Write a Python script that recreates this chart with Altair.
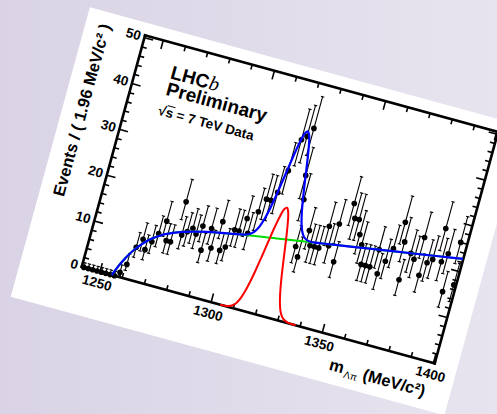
import math
import altair as alt
import pandas as pd

# ---------------- data ----------------
bin_centers = [1242.78, 1244.74, 1246.70, 1248.66, 1250.62, 1252.58, 1254.54, 1256.50, 1258.46, 1260.42,
               1262.38, 1264.34, 1266.30, 1268.26, 1270.22, 1272.18, 1274.14, 1276.10, 1278.06, 1280.02,
               1281.98, 1283.94, 1285.90, 1287.86, 1289.82, 1291.78, 1293.74, 1295.70, 1297.66, 1299.62,
               1301.58, 1303.54, 1305.50, 1307.46, 1309.42, 1311.38, 1313.34, 1315.30, 1317.26, 1319.22,
               1321.18, 1323.14, 1325.10, 1327.06, 1329.02, 1330.98, 1332.94, 1334.90, 1336.86, 1338.82,
               1340.78, 1342.74, 1344.70, 1346.66, 1348.62, 1350.58, 1352.54, 1354.50, 1356.46, 1358.42,
               1360.38, 1362.34, 1364.30, 1366.26, 1368.22, 1370.18, 1372.14, 1374.10, 1376.06, 1378.02,
               1379.98, 1381.94, 1383.90, 1385.86, 1387.82, 1389.78, 1391.74, 1393.70, 1395.66, 1397.62,
               1399.58]
counts = [0, 0, 0, 0, 0, 0, 0, 0, 1, 3,
          7, 9, 7, 9, 11, 14, 10, 10, 19, 12,
          13, 14, 13, 15, 10, 15, 11, 17, 11, 12,
          16, 16, 19, 16, 21, 24, 24, 26, 31, 38,
          39, 41, 31, 26, 16, 14, 20, 17, 17, 17,
          22, 18, 23, 15, 28, 25, 25, 22, 20, 16,
          16, 16, 20, 15, 18, 21, 27, 23, 15, 21,
          20, 25, 17, 20, 21, 28, 21, 23, 15, 26,
          17]

fit_mass = [1255.3, 1256, 1257, 1258, 1260, 1262, 1264, 1266, 1268, 1270, 1273, 1276, 1280, 1285,
            1290, 1295, 1300, 1304, 1306, 1308, 1310, 1311, 1312, 1313, 1314, 1315, 1316, 1317, 1318,
            1319, 1320, 1321, 1322, 1323, 1324, 1325, 1326, 1327, 1328, 1329, 1330, 1331, 1332, 1334,
            1336, 1340, 1350, 1360, 1370, 1380, 1390, 1400.5]
fit_bkg = [0.0, 0.9, 2.08, 3.15, 4.99, 6.51, 7.75, 8.79, 9.66, 10.37, 11.27, 11.96, 12.71, 13.43,
           14.01, 14.51, 14.95, 15.35, 15.50, 15.66, 15.81, 15.89, 15.97, 16.04, 16.12, 16.20, 16.27,
           16.35, 16.43, 16.51, 16.58, 16.66, 16.74, 16.81, 16.89, 16.97, 17.04, 17.12, 17.20, 17.28,
           17.35, 17.43, 17.51, 17.66, 17.81, 18.12, 18.89, 19.66, 20.43, 21.20, 21.97, 22.78]
fit_total = [0.0, 0.9, 2.08, 3.15, 4.99, 6.51, 7.75, 8.79, 9.66, 10.37, 11.27, 11.96, 12.71, 13.43,
             14.01, 14.51, 14.95, 15.35, 15.55, 15.89, 16.67, 17.43, 18.58, 20.21, 22.43, 25.22, 28.47,
             31.85, 35.13, 37.81, 39.58, 40.06, 39.24, 37.21, 34.39, 31.17, 27.94, 24.99, 22.58, 20.76,
             19.47, 18.66, 18.18, 17.83, 17.84, 18.12, 18.89, 19.66, 20.43, 21.20, 21.97, 22.78]
sig_mass = [1304, 1306, 1308, 1310, 1311, 1312, 1313, 1314, 1315, 1316, 1317, 1318, 1319, 1320, 1321,
            1322, 1323, 1324, 1325, 1326, 1327, 1328, 1329, 1330, 1331, 1332, 1334, 1336, 1338]
fit_sig = [0.0, 0.05, 0.23, 0.86, 1.54, 2.61, 4.17, 6.31, 9.02, 12.2, 15.5, 18.7, 21.3, 23.0, 23.4,
           22.5, 20.4, 17.5, 14.2, 10.9, 7.87, 5.38, 3.48, 2.12, 1.23, 0.67, 0.17, 0.03, 0.0]

x_major = [1250, 1300, 1350, 1400]
x_minor = [1260, 1270, 1280, 1290, 1310, 1320, 1330, 1340, 1360, 1370, 1380, 1390]
y_major = [0, 10, 20, 30, 40, 50]
y_minor = [2, 4, 6, 8, 12, 14, 16, 18, 22, 24, 26, 28, 32, 34, 36, 38, 42, 44, 46, 48]

# ---------------- rotated frame geometry ----------------
ANG = 15.3
C = math.cos(math.radians(ANG))
S = math.sin(math.radians(ANG))
OX, OY = 81.7, 266.8          # screen position of (xmin, 0)
XMIN = 1241.8
SX = 2.305                    # px per MeV
SY = 4.75                     # px per event
W, H = 366.0, 240.0
XMAX = XMIN + W / SX
NTOP = H / SY

XS = alt.Scale(domain=[0, 497], nice=False, zero=False)
YS = alt.Scale(domain=[0, 414], nice=False, zero=False, reverse=True)


def pos(m, n, du="0", dv="0"):
    u = f"((({m})-{XMIN})*{SX}+({du}))"
    v = f"(({n})*{SY}+({dv}))"
    return f"{OX}+{u}*{C}+{v}*{S}", f"{OY}+{u}*{S}-{v}*{C}"


def seg_layer(df, p1, p2, extra=None, **mk):
    x1, y1 = pos(*p1)
    x2, y2 = pos(*p2)
    ch = alt.Chart(df)
    if extra:
        ch = ch.transform_calculate(**extra)
    return ch.transform_calculate(X=x1, Y=y1, X2=x2, Y2=y2).mark_rule(**mk).encode(
        x=alt.X("X:Q", scale=XS, axis=None), y=alt.Y("Y:Q", scale=YS, axis=None),
        x2="X2:Q", y2="Y2:Q")


def text_layer(rows, **mk):
    df = pd.DataFrame(rows)
    x, y = pos("datum.m", "datum.n", "datum.du", "datum.dv")
    return alt.Chart(df).transform_calculate(X=x, Y=y).mark_text(**mk).encode(
        x=alt.X("X:Q", scale=XS, axis=None), y=alt.Y("Y:Q", scale=YS, axis=None),
        text="label:N")


def curve_layer(ms, ns, color, width=2.0):
    df = pd.DataFrame({"m": ms, "n": ns})
    x, y = pos("datum.m", "datum.n")
    return alt.Chart(df).transform_calculate(X=x, Y=y).mark_line(
        color=color, strokeWidth=width, interpolate="catmull-rom").encode(
        x=alt.X("X:Q", scale=XS, axis=None), y=alt.Y("Y:Q", scale=YS, axis=None),
        order="m:Q")


one = pd.DataFrame({"m": [XMIN], "n": [0.0]})

# background
bg = alt.Chart(one).mark_rect(
    fill=alt.LinearGradient(gradient="linear", x1=0, x2=1, y1=0, y2=0,
                            stops=[alt.GradientStop(color="#d9d3e5", offset=0),
                                   alt.GradientStop(color="#e8e4ef", offset=1)])
).encode(x=alt.value(0), x2=alt.value(497), y=alt.value(0), y2=alt.value(414))

# white slide panel (a thick rule)
panel = seg_layer(one, ("datum.m", "datum.n", "-60.6", "102.5"),
                  ("datum.m", "datum.n", "389", "102.5"),
                  stroke="#ffffff", strokeWidth=300, strokeCap="butt")

# frame
frame_df = pd.DataFrame({
    "m": [XMIN, XMAX, XMAX, XMIN], "n": [0, 0, NTOP, NTOP],
    "m2": [XMAX, XMAX, XMIN, XMIN], "n2": [0, NTOP, NTOP, 0]})
frame = seg_layer(frame_df, ("datum.m", "datum.n"), ("datum.m2", "datum.n2"),
                  stroke="black", strokeWidth=2.6, strokeCap="square")

# ticks
rows = []
for t, L in [(t, 9) for t in x_major] + [(t, 5) for t in x_minor]:
    rows.append(dict(m=t, n=0, du=0, dv=0, m2=t, n2=0, du2=0, dv2=L))
    rows.append(dict(m=t, n=NTOP, du=0, dv=0, m2=t, n2=NTOP, du2=0, dv2=-L))
for t, L in [(t, 9) for t in y_major] + [(t, 5) for t in y_minor]:
    rows.append(dict(m=XMIN, n=t, du=0, dv=0, m2=XMIN, n2=t, du2=L, dv2=0))
    rows.append(dict(m=XMAX, n=t, du=0, dv=0, m2=XMAX, n2=t, du2=-L, dv2=0))
ticks = seg_layer(pd.DataFrame(rows), ("datum.m", "datum.n", "datum.du", "datum.dv"),
                  ("datum.m2", "datum.n2", "datum.du2", "datum.dv2"),
                  stroke="black", strokeWidth=1.6)

FONT = "Liberation Sans"
xlab = text_layer([dict(m=t, n=0, du=0, dv=-12, label=str(t)) for t in x_major],
                  angle=ANG, align="center", baseline="middle", font=FONT,
                  fontSize=13.5, fontWeight="bold", color="black")
ylab = text_layer([dict(m=XMIN, n=t, du=-4, dv=0, label=str(t)) for t in y_major],
                  angle=ANG, align="right", baseline="middle", font=FONT,
                  fontSize=13.5, fontWeight="bold", color="black")
ytitle = text_layer([dict(m=XMIN, n=0, du=-40.6, dv=151.4, label="Events / ( 1.96 MeV/c² )")],
                    angle=270 + ANG, align="center", baseline="middle", font=FONT,
                    fontSize=16.5, fontWeight="bold", color="black")
xt1 = text_layer([dict(m=XMIN, n=0, du=265, dv=-29, label="m")],
                 angle=ANG, align="left", baseline="middle", font=FONT,
                 fontSize=16.5, fontWeight="bold", color="black")
xt2 = text_layer([dict(m=XMIN, n=0, du=281, dv=-35, label="Λπ")],
                 angle=ANG, align="left", baseline="middle", font=FONT,
                 fontSize=10, color="black")
xt3 = text_layer([dict(m=XMIN, n=0, du=364, dv=-30, label="(MeV/c²)")],
                 angle=ANG, align="right", baseline="middle", font=FONT,
                 fontSize=16.5, fontWeight="bold", color="black")
lhc = text_layer([dict(m=XMIN, n=0, du=35, dv=211, label="LHC"),
                  dict(m=XMIN, n=0, du=35, dv=194, label="Preliminary")],
                 angle=ANG, align="left", baseline="middle", font=FONT,
                 fontSize=19, fontWeight="bold", color="black")
lhcb = text_layer([dict(m=XMIN, n=0, du=74.5, dv=211, label="b")],
                  angle=ANG, align="left", baseline="middle", font="Liberation Serif",
                  fontSize=20, fontStyle="italic", color="black")
sqs = text_layer([dict(m=XMIN, n=0, du=33, dv=171, label="√s = 7 TeV Data")],
                 angle=ANG, align="left", baseline="middle", font=FONT,
                 fontSize=13.5, fontWeight="bold", color="black")
# overline of the square root
sq_bar = seg_layer(one, ("datum.m", "datum.n", "40.5", "178.2"),
                   ("datum.m", "datum.n", "48.5", "178.2"),
                   stroke="black", strokeWidth=1.0)

# data points with Poisson-like error bars
dat = pd.DataFrame({"m": bin_centers, "n": counts})
err_calc = {"lo": "max(0, datum.n - sqrt(datum.n + 0.25) + 0.5)",
            "hi": "datum.n + sqrt(datum.n + 0.25) + 0.5"}
ebar = seg_layer(dat, ("datum.m", "datum.lo"), ("datum.m", "datum.hi"), extra=err_calc,
                 stroke="black", strokeWidth=1.1)
cap_hi = seg_layer(dat, ("datum.m - 0.75", "datum.hi"), ("datum.m + 0.75", "datum.hi"),
                   extra=err_calc, stroke="black", strokeWidth=1.1)
cap_lo = seg_layer(dat, ("datum.m - 0.75", "datum.lo"), ("datum.m + 0.75", "datum.lo"),
                   extra=err_calc, stroke="black", strokeWidth=1.1)
px, py = pos("datum.m", "datum.n")
dots = alt.Chart(dat).transform_calculate(X=px, Y=py).mark_circle(
    size=32, color="black", opacity=1).encode(
    x=alt.X("X:Q", scale=XS, axis=None), y=alt.Y("Y:Q", scale=YS, axis=None))

green = curve_layer(fit_mass, fit_bkg, "#00dd00", 2.0)
red = curve_layer(sig_mass, fit_sig, "#ff0000", 2.0)
blue = curve_layer(fit_mass, fit_total, "#0000ff", 2.2)

chart = alt.layer(
    bg, panel, frame, ticks, xlab, ylab, ytitle, xt1, xt2, xt3,
    ebar, cap_hi, cap_lo, dots, green, red, blue, lhc, lhcb, sqs, sq_bar
).properties(
    width=497, height=414, padding=0, autosize=alt.AutoSizeParams(type="none"),
    background="#e0dbea"
).configure_view(stroke=None)

chart.save("out.html", embed_options={"renderer": "svg", "actions": False})
